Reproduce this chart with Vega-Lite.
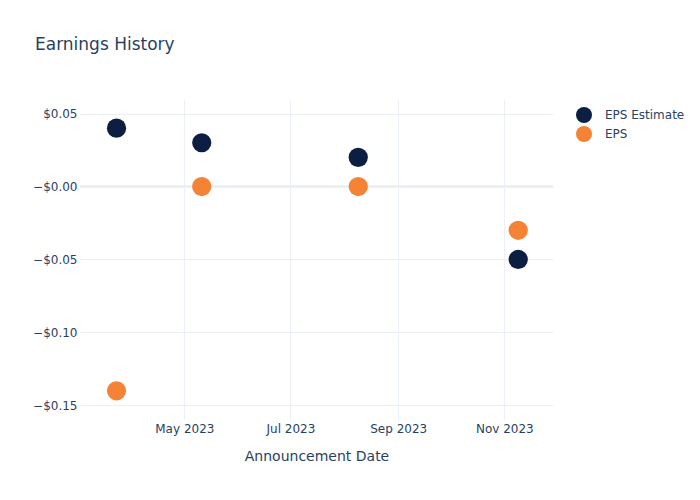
{
  "$schema": "https://vega.github.io/schema/vega-lite/v6.json",
  "width": 473,
  "height": 320,
  "autosize": {"type": "none"},
  "padding": {"left": 80, "top": 100, "right": 147, "bottom": 80},
  "background": "white",
  "title": {
    "text": "Earnings History",
    "anchor": "start",
    "frame": "group",
    "font": "DejaVu Sans",
    "fontSize": 17,
    "fontWeight": "normal",
    "color": "#2a3f5f",
    "dx": -45,
    "offset": 46
  },
  "config": {
    "view": {"stroke": null},
    "font": "DejaVu Sans"
  },
  "data": {
    "values": [
      {"date": "2023-03-23", "value": 0.04, "series": "EPS Estimate"},
      {"date": "2023-05-11", "value": 0.03, "series": "EPS Estimate"},
      {"date": "2023-08-09", "value": 0.02, "series": "EPS Estimate"},
      {"date": "2023-11-09", "value": -0.05, "series": "EPS Estimate"},
      {"date": "2023-03-23", "value": -0.14, "series": "EPS"},
      {"date": "2023-05-11", "value": 0.0, "series": "EPS"},
      {"date": "2023-08-09", "value": 0.0, "series": "EPS"},
      {"date": "2023-11-09", "value": -0.03, "series": "EPS"}
    ]
  },
  "layer": [
    {
      "mark": {"type": "rule", "color": "#ebf0f8", "strokeWidth": 2},
      "encoding": {"y": {"datum": 0, "type": "quantitative"}}
    },
    {
      "mark": {"type": "point", "filled": true, "opacity": 1, "size": 370, "shape": "circle"},
      "encoding": {
        "x": {
          "field": "date",
          "type": "temporal",
          "scale": {"type": "utc", "domain": [{"year": 2023, "month": 3, "date": 2, "utc": true}, {"year": 2023, "month": 11, "date": 29, "utc": true}]},
          "axis": {
            "title": "Announcement Date",
            "values": [
              {"year": 2023, "month": 5, "date": 1, "utc": true},
              {"year": 2023, "month": 7, "date": 1, "utc": true},
              {"year": 2023, "month": 9, "date": 1, "utc": true},
              {"year": 2023, "month": 11, "date": 1, "utc": true}
            ],
            "format": "%b %Y",
            "grid": true,
            "gridColor": "#ebf0f8",
            "gridWidth": 1,
            "domain": false,
            "ticks": false,
            "labelPadding": 3,
            "labelFontSize": 12,
            "labelColor": "#2a3f5f",
            "titleFontSize": 14,
            "titleFontWeight": "normal",
            "titleColor": "#2a3f5f",
            "titlePadding": 15
          }
        },
        "y": {
          "field": "value",
          "type": "quantitative",
          "scale": {"domain": [-0.16, 0.0593], "nice": false, "zero": false},
          "axis": {
            "title": null,
            "values": [0.05, 0, -0.05, -0.1, -0.15],
            "labelExpr": "datum.value > 0.001 ? '$' + format(datum.value, '.2f') : '−$' + format(abs(datum.value), '.2f')",
            "grid": true,
            "gridColor": "#ebf0f8",
            "gridWidth": 1,
            "domain": false,
            "ticks": false,
            "labelPadding": 3,
            "labelFontSize": 12,
            "labelColor": "#2a3f5f"
          }
        },
        "color": {
          "field": "series",
          "type": "nominal",
          "scale": {"domain": ["EPS Estimate", "EPS"], "range": ["#0c1f42", "#f58235"]},
          "legend": {
            "title": null,
            "orient": "none",
            "legendX": 495,
            "legendY": 6,
            "symbolType": "circle",
            "symbolSize": 256,
            "symbolOpacity": 1,
            "labelFontSize": 12,
            "labelColor": "#2a3f5f",
            "rowPadding": 2,
            "labelOffset": 12,
            "padding": 0
          }
        },
        "order": {"field": "series", "sort": "descending"}
      }
    }
  ]
}
